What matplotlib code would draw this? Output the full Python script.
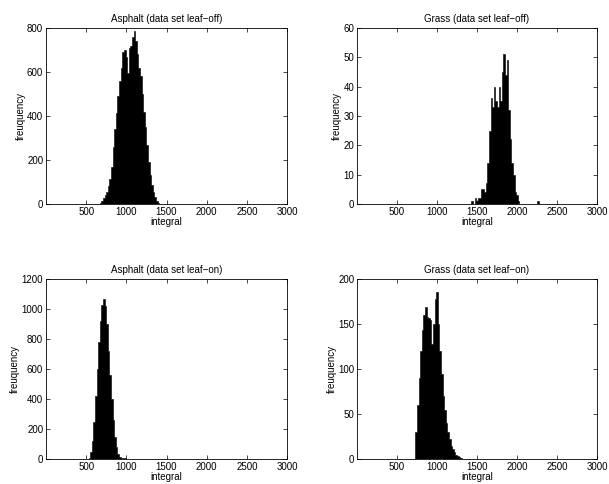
import matplotlib
matplotlib.use("Agg")
import matplotlib.pyplot as plt
import numpy as np

plt.rcParams["font.family"] = ["Liberation Sans", "DejaVu Sans"]
plt.rcParams["font.size"] = 7

BIN_W = 20

# Asphalt, leaf-off
asph_off_x = [680, 700, 720, 740, 760, 780, 800, 820, 840, 860, 880, 900, 920, 940,
              960, 980, 1000, 1020, 1040, 1060, 1080, 1100, 1120, 1140, 1160, 1180,
              1200, 1220, 1240, 1260, 1280, 1300, 1320, 1340, 1360, 1380, 1400]
asph_off_n = [5, 15, 25, 40, 55, 80, 115, 170, 260, 340, 415, 490, 560, 620,
              690, 700, 670, 595, 710, 720, 760, 785, 740, 680, 620, 580,
              500, 420, 350, 270, 190, 130, 85, 55, 30, 14, 5]

# Grass, leaf-off
grass_off_x = [1440, 1460, 1480, 1500, 1520, 1540, 1560, 1580, 1600, 1620, 1640, 1660,
               1680, 1700, 1720, 1740, 1760, 1780, 1800, 1820, 1840, 1860, 1880, 1900,
               1920, 1940, 1960, 1980, 2000, 2020, 2260]
grass_off_n = [1, 0, 2, 1, 2, 2, 5, 5, 4, 7, 14, 25,
               36, 33, 40, 35, 33, 40, 35, 45, 51, 44, 49, 32,
               22, 14, 10, 4, 3, 1, 1]

# Asphalt, leaf-on
asph_on_x = [540, 560, 580, 600, 620, 640, 660, 680, 700, 720, 740, 760, 780, 800,
             820, 840, 860, 880, 900, 920, 940, 960, 980, 1000, 1020, 1040, 1060,
             1080, 1100]
asph_on_n = [10, 50, 120, 250, 420, 600, 780, 920, 1030, 1070, 1020, 900, 720, 560,
             400, 260, 150, 80, 35, 12, 8, 5, 4, 3, 3, 2, 2, 1, 1]

# Grass, leaf-on
grass_on_x = [740, 760, 780, 800, 820, 840, 860, 880, 900, 920, 940, 960, 980, 1000,
              1020, 1040, 1060, 1080, 1100, 1120, 1140, 1160, 1180, 1200, 1220, 1240,
              1260, 1280, 1300]
grass_on_n = [30, 60, 90, 120, 143, 160, 169, 158, 157, 155, 128, 150, 178, 186,
              150, 120, 95, 70, 55, 40, 30, 22, 15, 11, 8, 5, 3, 2, 1]

panels = [
    ("Asphalt (data set leaf\u2212off)", asph_off_x, asph_off_n, 800, 200),
    ("Grass (data set leaf\u2212off)", grass_off_x, grass_off_n, 60, 10),
    ("Asphalt (data set leaf\u2212on)", asph_on_x, asph_on_n, 1200, 200),
    ("Grass (data set leaf\u2212on)", grass_on_x, grass_on_n, 200, 50),
]

W, H = 609, 484
# axes boxes in pixels: left, top, right, bottom
boxes = [(46, 28, 287, 204), (357, 28, 597, 204),
         (46, 279, 287, 459), (357, 279, 597, 459)]

fig = plt.figure(figsize=(W / 100, H / 100), dpi=100, facecolor="white")

for (title, xs, ns, ymax, ystep), (l, t, r, b) in zip(panels, boxes):
    ax = fig.add_axes([l / W, 1 - b / H, (r - l) / W, (b - t) / H])
    # contiguous bins so the histogram is one solid shape, like MATLAB's hist
    edges = np.arange(min(xs) - BIN_W / 2, max(xs) + BIN_W, BIN_W)
    ax.hist(xs, bins=edges, weights=ns, histtype="stepfilled",
            facecolor="black", edgecolor="black", linewidth=0.4)
    ax.set_xlim(0, 3000)
    ax.set_ylim(0, ymax)
    ax.set_xticks(np.arange(500, 3001, 500))
    ax.set_yticks(np.arange(0, ymax + 1, ystep))
    ax.tick_params(direction="in", length=3, width=0.5, top=True, right=True, pad=2)
    for s in ax.spines.values():
        s.set_linewidth(0.6)
    ax.set_title(title, fontsize=7, pad=4)
    ax.set_xlabel("integral", labelpad=0)
    ax.set_ylabel("freuquency", labelpad=1)

fig.savefig("out.png", dpi=100)
